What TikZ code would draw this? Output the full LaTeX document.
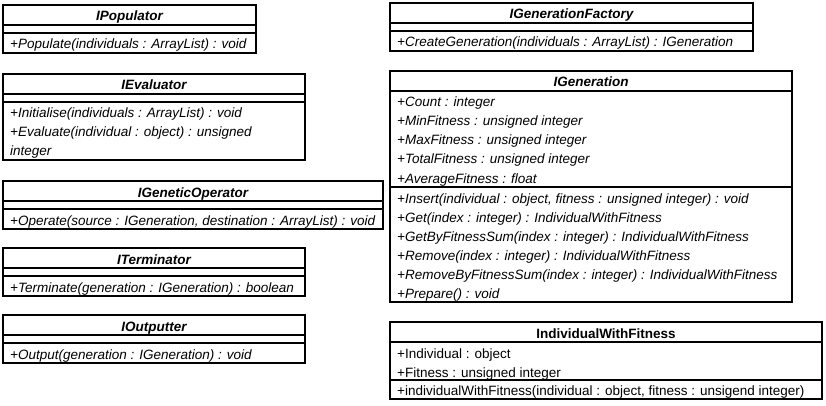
\documentclass[tikz,border=0pt]{standalone}
\usepackage{fontspec}
\setmainfont{Liberation Sans}
\begin{document}
\begin{tikzpicture}[x=1pt,y=-1pt]
\tikzset{cls/.style={draw,line width=2pt},
         sep/.style={line width=1.6pt},
         head/.style={anchor=base,inner sep=0pt,font=\fontsize{13.5}{16}\selectfont\bfseries\itshape},
         op/.style={anchor=base west,inner sep=0pt,font=\fontsize{13.5}{16}\selectfont\itshape},
         plain/.style={anchor=base west,inner sep=0pt,font=\fontsize{13.5}{16}\selectfont}}
\useasboundingbox (0,0) rectangle (826,406);

% interfaces with one operation and no attributes
\foreach \nm/\x/\xr/\y/\ttl/\txt in {pop/3/256/5/IPopulator/{+Populate(individuals : ArrayList) : void},
    genop/3/383/181/IGeneticOperator/{+Operate(source : IGeneration, destination : ArrayList) : void},
    term/3/305/248/ITerminator/{+Terminate(generation : IGeneration) : boolean},
    outp/3/305/315/IOutputter/{+Output(generation : IGeneration) : void},
    fact/390/753/3/IGenerationFactory/{+CreateGeneration(individuals : ArrayList) : IGeneration}}
{
    \draw[cls] (\x,\y) rectangle (\xr,\y+48);
    \draw[sep] (\x,\y+20) -- (\xr,\y+20) (\x,\y+28) -- (\xr,\y+28);
    \node[head] (\nm) at ({(\x+\xr)/2},\y+16) {\ttl};
    \node[op] (\nm-op) at (\x+7,\y+44) {\txt};
}

% IEvaluator, its second operation wraps
\draw[cls] (3,74) rectangle (305,160);
\draw[sep] (3,94) -- (305,94) (3,102) -- (305,102);
\node[head] (eval) at (154,90) {IEvaluator};
\foreach \txt [count=\k] in {{+Initialise(individuals : ArrayList) : void},
    {+Evaluate(individual : object) : unsigned}, integer}
    \node[op] (eval-\k) at (10,99+19*\k) {\txt};

% IGeneration: five attributes, six operations
\draw[cls] (390,71) rectangle (792,302);
\draw[sep] (390,91) -- (792,91) (390,187) -- (792,187);
\node[head] (gen) at (591,87) {IGeneration};
\foreach \txt [count=\k] in {+Count : integer, +MinFitness : unsigned integer,
    +MaxFitness : unsigned integer, +TotalFitness : unsigned integer, +AverageFitness : float}
    \node[op] (gen-a\k) at (397,88+19*\k) {\txt};
\foreach \txt [count=\k] in {{+Insert(individual : object, fitness : unsigned integer) : void},
    +Get(index : integer) : IndividualWithFitness,
    +GetByFitnessSum(index : integer) : IndividualWithFitness,
    +Remove(index : integer) : IndividualWithFitness,
    +RemoveByFitnessSum(index : integer) : IndividualWithFitness,
    +Prepare() : void}
    \node[op] (gen-m\k) at (397,184+19*\k) {\txt};

% IndividualWithFitness is a class, not an interface
\draw[cls] (390,322) rectangle (822,399);
\draw[sep] (390,342) -- (822,342) (390,380) -- (822,380);
\node[head,font=\fontsize{13.5}{16}\selectfont\bfseries] (iwf) at (606,338) {IndividualWithFitness};
\node[plain] (iwf-a1) at (397,358) {+Individual : object};
\node[plain] (iwf-a2) at (397,377) {+Fitness : unsigned integer};
\node[plain] (iwf-m1) at (397,395) {+individualWithFitness(individual : object, fitness : unsigend integer)};
\end{tikzpicture}
\end{document}
